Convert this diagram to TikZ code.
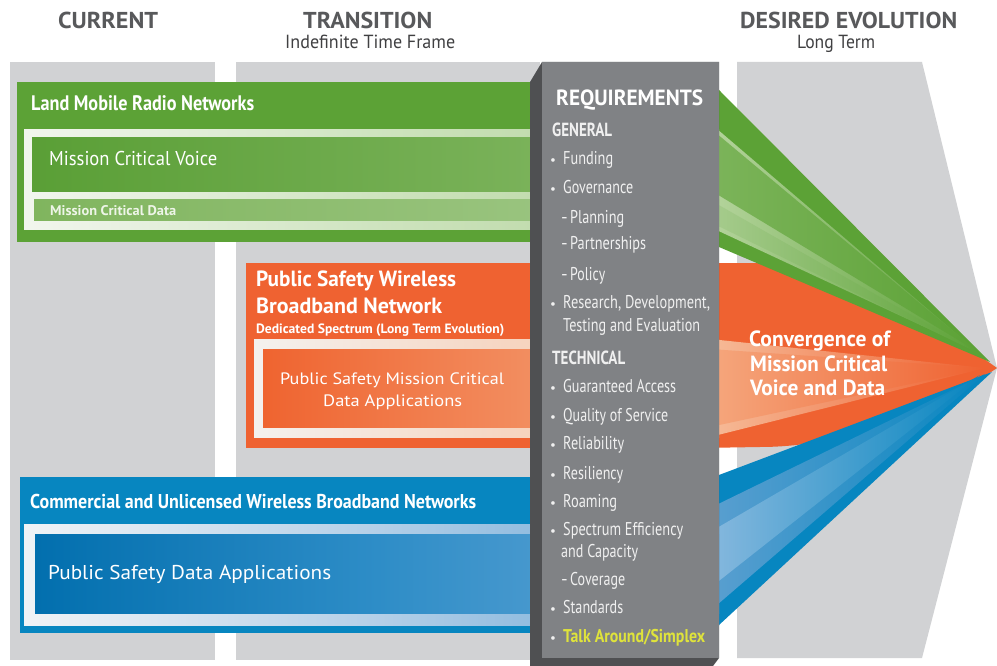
\documentclass[tikz,border=0pt]{standalone}
\usepackage{fontspec}
\setmainfont{PT Sans}
\usepackage{graphicx}
\definecolor{hdr}{HTML}{58595B}
\definecolor{hdrs}{HTML}{404042}
\definecolor{gcol}{HTML}{D1D2D4}
\definecolor{grn}{HTML}{5CA236}
\definecolor{org}{HTML}{EF6231}
\definecolor{blu}{HTML}{0786C0}
\definecolor{pface}{HTML}{808285}
\definecolor{pdark}{HTML}{4F5052}
\definecolor{yel}{HTML}{DFE33B}
\definecolor{itm}{HTML}{F0F0F0}
\definecolor{osA}{HTML}{F6BB98}
\definecolor{osB}{HTML}{F5A77D}
\definecolor{gsA}{HTML}{B5D49D}
\definecolor{gsB}{HTML}{7CB45A}
\definecolor{gsC}{HTML}{A7CC8E}
\definecolor{bsA}{HTML}{5A9FD0}
\definecolor{bsB}{HTML}{86B8DE}
\definecolor{gfL}{HTML}{F2F6EE}
\definecolor{gfM}{HTML}{CFE4C0}
\definecolor{gfR}{HTML}{B3D39B}
\definecolor{gvL}{HTML}{5A9F36}
\definecolor{gvR}{HTML}{86B967}
\definecolor{gdL}{HTML}{80B55E}
\definecolor{gdR}{HTML}{A2C98A}
\definecolor{ofL}{HTML}{F4F1EE}
\definecolor{ofR}{HTML}{F7BF9D}
\definecolor{oiL}{HTML}{EF6430}
\definecolor{oiR}{HTML}{F5AB82}
\definecolor{bfL}{HTML}{F0F3F6}
\definecolor{bfM}{HTML}{B5D0E8}
\definecolor{bfR}{HTML}{6AA7D6}
\definecolor{biL}{HTML}{026FAE}
\definecolor{biM}{HTML}{2E8DC7}
\definecolor{biR}{HTML}{63A5D5}
\definecolor{mcdt}{HTML}{EEF5E8}
\newlength\fitlen
\newcommand\fitw[2]{\settowidth{\fitlen}{#2}\pgfmathsetmacro\fitfac{#1/\fitlen}\scalebox{\fitfac}[1]{#2}}
\newcommand\fsz[1]{\fontsize{#1}{#1}\selectfont}
\begin{document}
\begin{tikzpicture}[x=1pt,y=-1pt,
  lbl/.style={inner sep=0pt, anchor=base west, text=white},
  hd/.style={lbl, text=hdr, font=\bfseries\fsz{23}},
  hds/.style={lbl, text=hdrs, font=\fsz{19}},
  boxb/.style={lbl, font=\bfseries\fsz{21}},
  boxr/.style={lbl, font=\fsz{20}},
  itmb/.style={lbl, text=itm, font=\fsz{18.5}},
  bul/.style={lbl, text=itm, font=\fsz{13}},
  sec/.style={lbl, text=itm, font=\bfseries\fsz{19}},
  cvg/.style={lbl, font=\bfseries\fsz{22}}]
\useasboundingbox (0,0) rectangle (997,666);
\fill[white] (0,0) rectangle (997,666);
% gray columns
\fill[gcol] (10,62) rectangle (215,660);
\fill[gcol] (236,62) rectangle (540,660);
\fill[gcol] (737,62) -- (922,62) -- (997,368) -- (922,658) -- (737,658) -- cycle;
% orange stream
\fill[org] (700,263) -- (760,263) .. controls (860,264) and (950,335) .. (997,368) .. controls (950,400) and (860,447) .. (760,447) -- (700,448) -- cycle;
\shade[left color=osA, right color=org] (710,339) -- (985,368) -- (710,437) -- cycle;
\shade[left color=osB, right color=org] (710,349) -- (985,368) -- (710,427) -- cycle;
% green stream
\fill[grn] (700,82) -- (719,90) -- (990,362) -- (719,247) -- (700,242) -- cycle;
\shade[left color=gsA, right color=grn] (710,123) -- (978,352) -- (710,227) -- cycle;
\shade[left color=gsB, right color=grn] (710,128) -- (978,352) -- (710,190) -- cycle;
\shade[left color=gsC, right color=grn] (710,200) -- (980,354) -- (710,222) -- cycle;
% blue stream
\fill[blu] (700,477) -- (719,475) -- (992,372) -- (719,625) -- (700,633) -- cycle;
\shade[left color=bsA, right color=blu] (710,508) -- (985,374) -- (710,611) -- cycle;
\shade[left color=bsB, right color=blu] (710,532) -- (980,375) -- (710,588) -- cycle;
% green box
\fill[grn] (17,82) rectangle (719,242);
\shade[left color=gfL, right color=gfR, middle color=gfM] (24,130) rectangle (719,230);
\shade[left color=gvL, right color=gvR] (32,138) rectangle (719,192);
\shade[left color=gdL, right color=gdR] (34,200) rectangle (719,221);
% orange box
\fill[org] (246,263) rectangle (719,448);
\shade[left color=ofL, right color=ofR] (254,339) rectangle (719,437);
\shade[left color=oiL, right color=oiR] (263,349) rectangle (719,427);
% blue box
\fill[blu] (20,477) rectangle (719,633);
\shade[left color=bfL, right color=bfR, middle color=bfM] (24,524) rectangle (719,625);
\shade[left color=biL, right color=biR, middle color=biM] (35,534) rectangle (719,613);
% requirements panel
\fill[pdark] (530,82) -- (542,62) -- (719,62) -- (719,658) -- (713,666) -- (530,666) -- cycle;
\fill[pface] (542,62) rectangle (719,658);
% headers
\node[hd] (hcur) at (58,29) {\fitw{100}{CURRENT}};
\node[hd] (htr) at (303,29) {\fitw{129}{TRANSITION}};
\node[hds] (htrs) at (285,49) {\fitw{170}{Indefinite Time Frame}};
\node[hd] (hdes) at (740,29) {\fitw{217}{DESIRED EVOLUTION}};
\node[hds] (hdess) at (797,49) {\fitw{78}{Long Term}};
% box labels
\node[boxb] (lmr) at (31,111) {\fitw{223}{Land Mobile Radio Networks}};
\node[boxr] (mcv) at (49,166) {\fitw{168}{Mission Critical Voice}};
\node[lbl, text=mcdt, font=\bfseries\fsz{14}] (mcd) at (50,216) {\fitw{126}{Mission Critical Data}};
\node[boxb, font=\bfseries\fsz{22}] (psw1) at (256,287) {\fitw{200}{Public Safety Wireless}};
\node[boxb, font=\bfseries\fsz{22}] (psw2) at (256,313) {\fitw{186}{Broadband Network}};
\node[lbl, font=\bfseries\fsz{13.5}] (ded) at (256,333) {\fitw{248}{Dedicated Spectrum (Long Term Evolution)}};
\node[lbl, font=\fsz{16.5}] (psm1) at (280,384) {\fitw{224}{Public Safety Mission Critical}};
\node[lbl, font=\fsz{16.5}] (psm2) at (323,406) {\fitw{139}{Data Applications}};
\node[boxb, font=\bfseries\fsz{20}] (cuw) at (30,508) {\fitw{446}{Commercial and Unlicensed Wireless Broadband Networks}};
\node[boxr] (psd) at (48,579) {\fitw{283}{Public Safety Data Applications}};
% panel text
\node[lbl, font=\bfseries\fsz{22}] (req) at (556,106) {\fitw{147}{REQUIREMENTS}};
\node[sec] (gen) at (552,137) {\fitw{60}{GENERAL}};
\node[bul] (b1) at (550,165) {•};
\node[itmb] (i1) at (563,165) {\fitw{50}{Funding}};
\node[bul] (b2) at (550,194) {•};
\node[itmb] (i2) at (563,194) {\fitw{70}{Governance}};
\node[itmb] (d3) at (561,223) {-};
\node[itmb] (i3) at (570,223) {\fitw{54}{Planning}};
\node[itmb] (d4) at (561,250) {-};
\node[itmb] (i4) at (570,250) {\fitw{76}{Partnerships}};
\node[itmb] (d5) at (561,280) {-};
\node[itmb] (i5) at (570,280) {\fitw{35}{Policy}};
\node[bul] (b6) at (550,308) {•};
\node[itmb] (i6) at (563,308) {\fitw{147}{Research, Development,}};
\node[itmb] (i6b) at (563,331) {\fitw{137}{Testing and Evaluation}};
\node[sec] (tec) at (552,364) {\fitw{73}{TECHNICAL}};
\node[bul] (b7) at (550,392) {•};
\node[itmb] (i7) at (563,392) {\fitw{113}{Guaranteed Access}};
\node[bul] (b8) at (550,421) {•};
\node[itmb] (i8) at (563,421) {\fitw{105}{Quality of Service}};
\node[bul] (b9) at (550,449) {•};
\node[itmb] (i9) at (563,449) {\fitw{61}{Reliability}};
\node[bul] (b10) at (550,479) {•};
\node[itmb] (i10) at (563,479) {\fitw{60}{Resiliency}};
\node[bul] (b11) at (550,507) {•};
\node[itmb] (i11) at (563,507) {\fitw{54}{Roaming}};
\node[bul] (b12) at (550,535) {•};
\node[itmb] (i12) at (563,535) {\fitw{120}{Spectrum Efficiency}};
\node[itmb] (i12b) at (561,557) {\fitw{77}{and Capacity}};
\node[itmb] (d13) at (561,585) {-};
\node[itmb] (i13) at (570,585) {\fitw{55}{Coverage}};
\node[bul] (b14) at (550,613) {•};
\node[itmb] (i14) at (563,613) {\fitw{60}{Standards}};
\node[bul] (b15) at (550,642) {•};
\node[itmb, text=yel, font=\bfseries\fsz{18.5}] (i15) at (563,642) {\fitw{142}{Talk Around/Simplex}};
% convergence
\node[cvg] (cv1) at (749,346) {\fitw{141}{Convergence of}};
\node[cvg] (cv2) at (750,371) {\fitw{137}{Mission Critical}};
\node[cvg] (cv3) at (750,395) {\fitw{135}{Voice and Data}};
\end{tikzpicture}
\end{document}
